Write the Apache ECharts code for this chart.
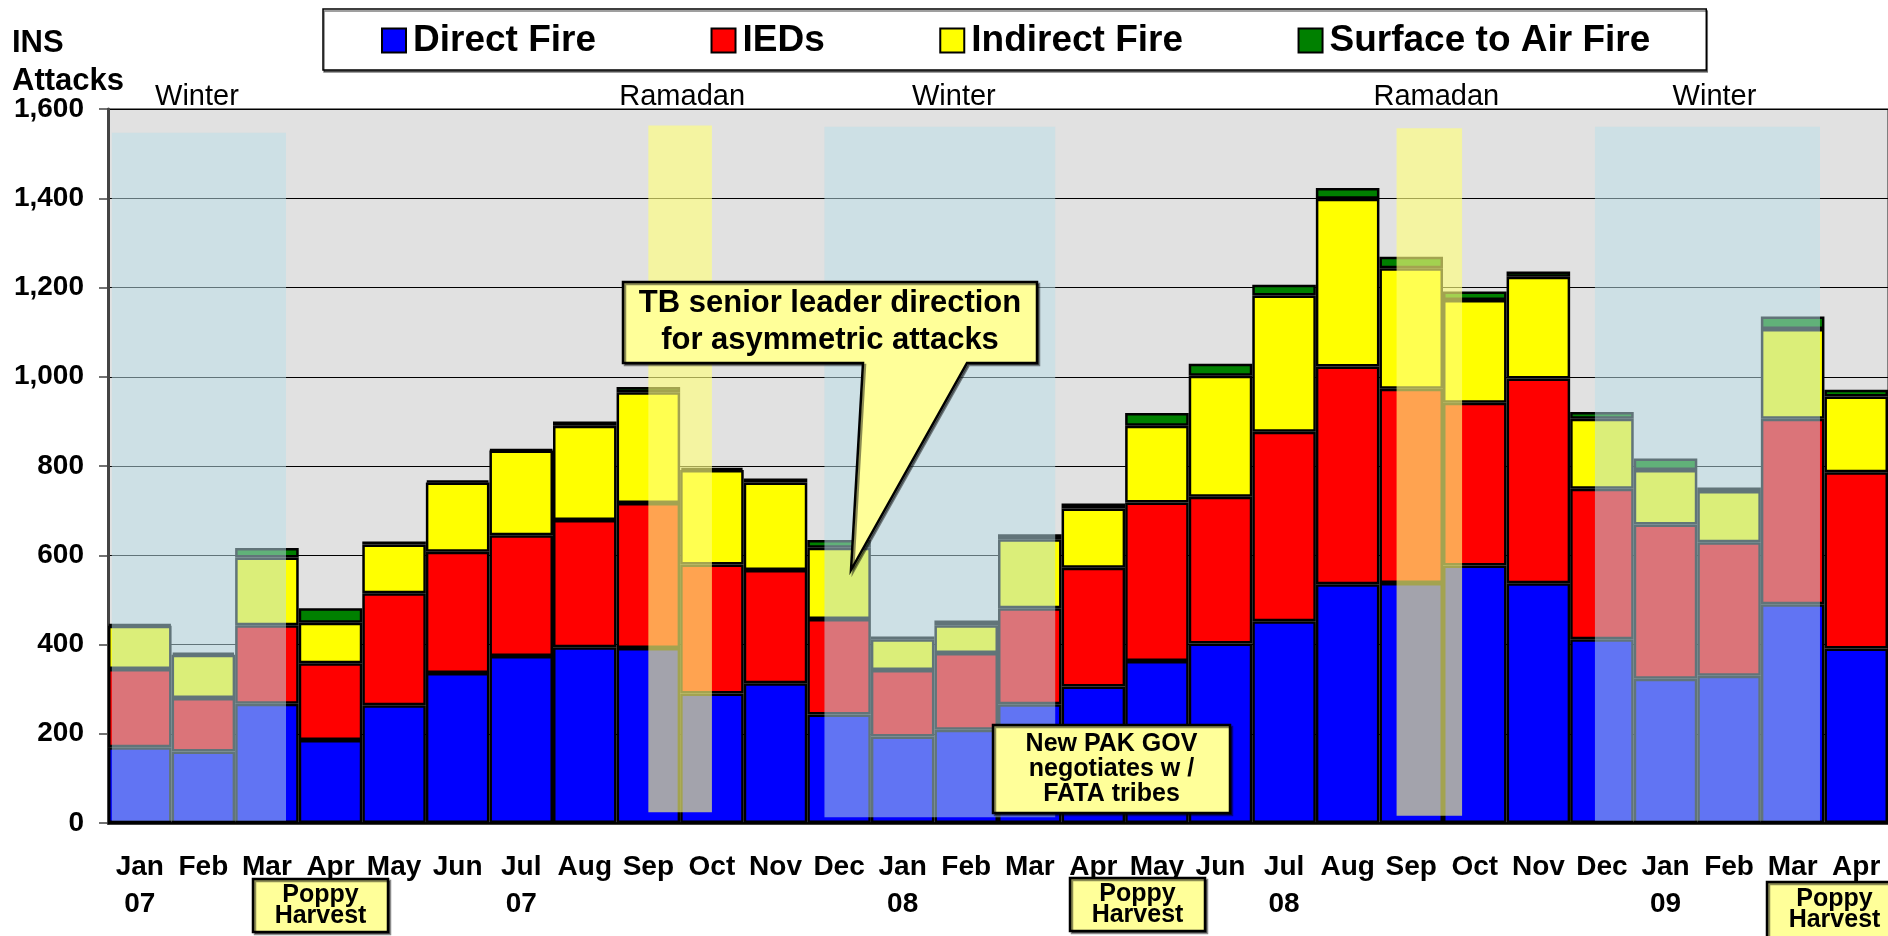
<!DOCTYPE html>
<html>
<head>
<meta charset="utf-8">
<title>INS Attacks</title>
<script src="https://cdn.jsdelivr.net/npm/echarts@6/dist/echarts.min.js"></script>
<style>
  html, body { margin: 0; padding: 0; background: #fff; }
  #chart { width: 1888px; height: 936px; }
</style>
</head>
<body>
<div id="chart"></div>
<script>
// months on the x axis, year tag under Jan / Jul
const months = ['Jan', 'Feb', 'Mar', 'Apr', 'May', 'Jun', 'Jul', 'Aug', 'Sep', 'Oct', 'Nov', 'Dec',
  'Jan', 'Feb', 'Mar', 'Apr', 'May', 'Jun', 'Jul', 'Aug', 'Sep', 'Oct', 'Nov', 'Dec',
  'Jan', 'Feb', 'Mar', 'Apr']
const years = ['07', '', '', '', '', '', '07', '', '', '', '', '',
  '08', '', '', '', '', '', '08', '', '', '', '', '',
  '09', '', '', '']

const directFire = [170, 160, 267, 186, 264, 336, 374, 394, 392, 290, 313, 243,
  194, 209, 266, 306, 363, 402, 452, 535, 538, 577, 537, 412, 323, 330, 490, 391]
const ieds = [175, 120, 176, 172, 251, 272, 271, 285, 325, 289, 254, 214,
  149, 172, 215, 266, 355, 329, 425, 488, 435, 365, 459, 337, 346, 299, 416, 395]
const indirectFire = [97, 97, 152, 91, 109, 155, 190, 211, 248, 212, 196, 160,
  69, 62, 155, 133, 172, 271, 305, 376, 270, 230, 228, 157, 122, 115, 201, 170]
const surfaceToAir = [3, 5, 21, 32, 7, 4, 2, 10, 12, 5, 9, 17,
  6, 11, 11, 11, 29, 27, 24, 24, 26, 19, 12, 15, 26, 8, 28, 15]

// shaded seasons: [name, start, end] in month index units, bottom/top in attacks
const seasons = [
  ['Winter', 0.06, 2.8, 5, 1547],
  ['Ramadan', 8.5, 9.5, 24, 1563],
  ['Winter', 11.27, 14.9, 13, 1560],
  ['Ramadan', 20.27, 21.3, 16, 1557],
  ['Winter', 23.39, 26.93, 5, 1560],
]
// small horizontal nudge of each season label
const seasonLabelShift = [-2, 2, 14, 7, 7]

const FONT = '"Liberation Sans", Arial, sans-serif'
const chart = echarts.init(document.getElementById('chart'))

const categories = months.map(function (m, i) {
  return years[i] ? m + '\n' + years[i] : m
})

// plot geometry
const gridLeft = 108
const gridTop = 109
const gridHeight = 714
const yMax = 1600

function barSeries(name, data, color) {
  return {
    name: name,
    type: 'bar',
    stack: 'attacks',
    barCategoryGap: '0%',
    data: data,
    z: 2,
    itemStyle: {
      color: color,
      borderColor: '#000',
      borderWidth: 2.5,
    },
  }
}

const seasonAreas = seasons.map(function (s, i) {
  const isWinter = s[0] === 'Winter'
  // distance from area top to label so all labels sit on the same line
  const topPx = gridTop + gridHeight * (1 - s[4] / yMax)
  return [
    {
      name: s[0],
      xAxis: s[1],
      yAxis: s[3],
      itemStyle: {
        color: isWinter ? 'rgba(186,222,232,0.52)' : 'rgba(255,255,125,0.64)',
      },
      label: { distance: topPx - 111, offset: [seasonLabelShift[i], 0] },
    },
    { xAxis: s[2], yAxis: s[4] },
  ]
})

function box(x, y, w, h, text, fontSize, lineHeight) {
  return [
    {
      type: 'rect',
      z: 100,
      shape: { x: x, y: y, width: w, height: h },
      style: {
        fill: '#ffff99',
        stroke: '#000',
        lineWidth: 2.5,
        shadowColor: 'rgba(0,0,0,0.45)',
        shadowOffsetX: 2,
        shadowOffsetY: 2,
      },
    },
    {
      type: 'text',
      z: 101,
      x: x + w / 2,
      y: y + h / 2,
      style: {
        text: text,
        fill: '#000',
        font: 'bold ' + fontSize + 'px ' + FONT,
        lineHeight: lineHeight,
        textAlign: 'center',
        textVerticalAlign: 'middle',
      },
    },
  ]
}

const option = {
  animation: false,
  textStyle: { fontFamily: FONT },
  title: {
    text: 'INS\nAttacks',
    left: 12,
    top: 24,
    padding: 0,
    textStyle: {
      fontSize: 31,
      fontWeight: 'bold',
      lineHeight: 38,
      color: '#000',
      fontFamily: FONT,
    },
  },
  legend: {
    data: ['Direct Fire', 'IEDs', 'Indirect Fire', 'Surface to Air Fire'],
    left: 323,
    top: 9,
    padding: [13, 56, 11, 58],
    itemGap: 114.5,
    itemWidth: 24,
    itemHeight: 24,
    icon: 'rect',
    backgroundColor: '#fff',
    borderColor: '#000',
    borderWidth: 1.5,
    shadowColor: 'rgba(0,0,0,0.5)',
    shadowOffsetX: 1,
    shadowOffsetY: 2,
    itemStyle: { borderColor: '#000', borderWidth: 2 },
    textStyle: {
      fontSize: 37,
      fontWeight: 'bold',
      color: '#000',
      fontFamily: FONT,
      padding: [0, 0, 0, 2],
    },
  },
  grid: {
    left: gridLeft,
    top: gridTop,
    width: 1792,
    height: gridHeight,
    show: true,
    backgroundColor: '#e1e1e1',
    borderColor: '#7f7f7f',
    borderWidth: 2,
  },
  xAxis: [
    {
      type: 'category',
      data: categories,
      axisLine: { lineStyle: { color: '#000', width: 2.5 } },
      axisTick: { length: 11, lineStyle: { color: '#555', width: 1.5 } },
      axisLabel: {
        interval: 0,
        margin: 26,
        color: '#000',
        fontSize: 28,
        fontWeight: 'bold',
        lineHeight: 37,
        fontFamily: FONT,
      },
    },
    {
      // hidden numeric axis used to place the season shading
      type: 'value',
      min: 0,
      max: months.length,
      show: false,
    },
  ],
  yAxis: {
    type: 'value',
    min: 0,
    max: yMax,
    interval: 200,
    axisLine: { show: true, lineStyle: { color: '#444', width: 3 } },
    axisTick: { show: true, length: 9, lineStyle: { color: '#444', width: 1.5 } },
    axisLabel: {
      margin: 24,
      color: '#000',
      fontSize: 28,
      fontWeight: 'bold',
      fontFamily: FONT,
      formatter: function (v) {
        return v.toLocaleString('en-US')
      },
    },
    splitLine: { lineStyle: { color: '#000', width: 1 } },
  },
  series: [
    barSeries('Direct Fire', directFire, '#0000ff'),
    barSeries('IEDs', ieds, '#ff0000'),
    barSeries('Indirect Fire', indirectFire, '#ffff00'),
    barSeries('Surface to Air Fire', surfaceToAir, '#008000'),
    {
      name: 'seasons',
      type: 'line',
      xAxisIndex: 1,
      data: [],
      clip: false,
      z: 5,
      markArea: {
        silent: true,
        z: 5,
        label: {
          show: true,
          position: 'top',
          color: '#000',
          fontSize: 29,
          fontFamily: FONT,
        },
        data: seasonAreas,
      },
    },
  ],
  graphic: [
    {
      type: 'polygon',
      z: 100,
      shape: {
        points: [[623, 282], [1037, 282], [1037, 363], [967, 363], [851, 570], [863, 363], [623, 363]],
      },
      style: {
        fill: '#ffff99',
        stroke: '#000',
        lineWidth: 2.5,
        shadowColor: 'rgba(0,0,0,0.45)',
        shadowOffsetX: 2,
        shadowOffsetY: 2,
      },
    },
    {
      type: 'text',
      z: 101,
      x: 830,
      y: 322,
      style: {
        text: 'TB senior leader direction\nfor asymmetric attacks',
        fill: '#000',
        font: 'bold 31px ' + FONT,
        lineHeight: 37,
        textAlign: 'center',
        textVerticalAlign: 'middle',
      },
    },
  ]
    .concat(box(993, 725, 237, 88, 'New PAK GOV\nnegotiates w /\nFATA tribes', 25, 25))
    .concat(box(253, 879, 135, 53, 'Poppy\nHarvest', 25, 21))
    .concat(box(1070, 878, 135, 53, 'Poppy\nHarvest', 25, 21))
    .concat(box(1767, 882, 135, 56, 'Poppy\nHarvest', 25, 21)),
}

chart.setOption(option)
</script>
</body>
</html>
